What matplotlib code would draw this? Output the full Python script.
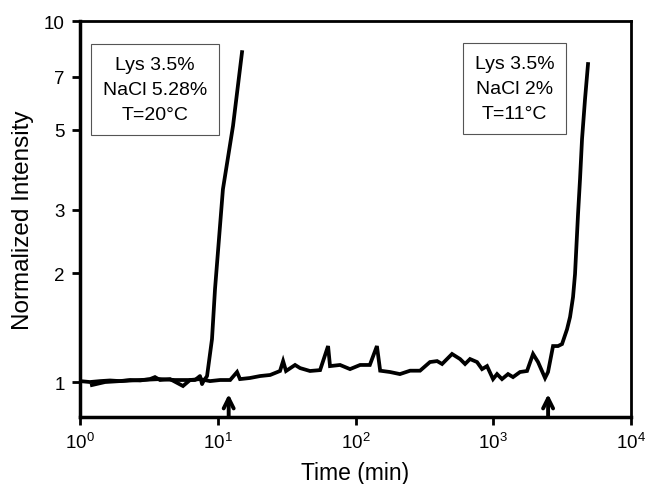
import matplotlib
matplotlib.use("Agg")
import matplotlib.pyplot as plt
from matplotlib.ticker import FixedLocator, FixedFormatter, NullLocator, LogLocator

plt.rcParams['font.family'] = ['Liberation Sans', 'DejaVu Sans']
plt.rcParams['mathtext.fontset'] = 'custom'
plt.rcParams['mathtext.rm'] = 'Liberation Sans'
plt.rcParams['mathtext.it'] = 'Liberation Sans:italic'

# run at T=20C (fast)
t_fast = [1.22, 1.52, 1.95, 2.73, 3.81, 4.89, 6.84, 7.43, 7.69, 7.81, 8.36,
          9.08, 9.55, 10.38, 10.9, 12.9, 15.0]
i_fast = [0.981, 1.0, 1.006, 1.013, 1.019, 1.013, 1.013, 1.039, 0.987, 1.0,
          1.039, 1.315, 1.81, 2.705, 3.42, 5.12, 8.2]

# run at T=11C (slow)
t_slow = [1.0, 1.18, 1.40, 1.65, 1.95, 2.31, 2.73, 3.22, 3.50, 3.81, 4.50, 5.59,
          6.29, 7.43, 8.78, 10.4, 12.3, 13.8, 14.5, 17.1, 20.3, 24.0, 28.3, 29.8,
          31.3, 36.4, 39.6, 46.7, 55.3, 63.2, 65.3, 77.2, 91.2, 108, 127, 143,
          151, 178, 210, 249, 294, 347, 391, 425, 502, 574, 624, 678, 762, 829,
          901, 996, 1065, 1157, 1280, 1391, 1564, 1758, 1944, 2113, 2376, 2497,
          2716, 2952, 3156, 3431, 3608, 3793, 3922, 4124, 4264, 4409, 4636, 4873]
i_slow = [1.006, 1.0, 1.006, 1.010, 1.006, 1.013, 1.010, 1.019, 1.032, 1.013,
          1.019, 0.975, 1.013, 1.019, 1.006, 1.013, 1.013, 1.066, 1.019, 1.026,
          1.039, 1.046, 1.073, 1.143, 1.073, 1.115, 1.093, 1.073, 1.079, 1.258,
          1.107, 1.115, 1.086, 1.115, 1.115, 1.258, 1.075, 1.066, 1.052, 1.075,
          1.075, 1.136, 1.143, 1.122, 1.196, 1.158, 1.122, 1.158, 1.136, 1.086,
          1.107, 1.019, 1.052, 1.019, 1.052, 1.032, 1.066, 1.073, 1.196, 1.136,
          1.026, 1.066, 1.258, 1.258, 1.274, 1.40, 1.514, 1.719, 1.991, 2.92,
          3.65, 4.71, 6.08, 7.60]

arrow_t = [12, 2500]
y_ticks = [1, 2, 3, 5, 7, 10]
labels = ["Lys 3.5%\nNaCl 5.28%\nT=20°C", "Lys 3.5%\nNaCl 2%\nT=11°C"]

fig = plt.figure(figsize=(6.49, 4.85), dpi=100)
ax = fig.add_axes([0.1233, 0.1381, 0.849, 0.8165])

ax.plot(t_slow, i_slow, color='black', lw=2.7, solid_joinstyle='miter')
ax.plot(t_fast, i_fast, color='black', lw=2.7)

ax.set_xscale('log')
ax.set_yscale('log')
ax.set_xlim(1, 1e4)
ax.set_ylim(0.8, 10)

ax.xaxis.set_major_locator(LogLocator(base=10, numticks=10))
ax.xaxis.set_minor_locator(NullLocator())
ax.yaxis.set_major_locator(FixedLocator(y_ticks))
ax.yaxis.set_major_formatter(FixedFormatter([str(v) for v in y_ticks]))
ax.yaxis.set_minor_locator(NullLocator())

for s in ax.spines.values():
    s.set_linewidth(2)
ax.spines['left'].set_linewidth(2.5)
ax.spines['bottom'].set_linewidth(2.5)
ax.tick_params(direction='out', length=6, width=2, labelsize=13.5, pad=5)

ax.set_xlabel("Time (min)", fontsize=16.5, labelpad=6)
ax.set_ylabel("Normalized Intensity", fontsize=17.5, labelpad=7)

for t in arrow_t:
    ax.annotate('', xy=(t, 0.926), xytext=(t, 0.8),
                arrowprops=dict(arrowstyle='->', lw=2.8, color='black',
                                mutation_scale=18, shrinkA=0, shrinkB=0))

box = dict(boxstyle='square,pad=0.6', fc='white', ec='#555555', lw=0.8)
ax.text(0.136, 0.827, labels[0], transform=ax.transAxes, ha='center', va='center',
        fontsize=14, linespacing=1.62, bbox=box)
ax.text(0.7886, 0.8295, labels[1], transform=ax.transAxes, ha='center', va='center',
        fontsize=14, linespacing=1.62, bbox=box)

fig.savefig('out.png', dpi=100)
